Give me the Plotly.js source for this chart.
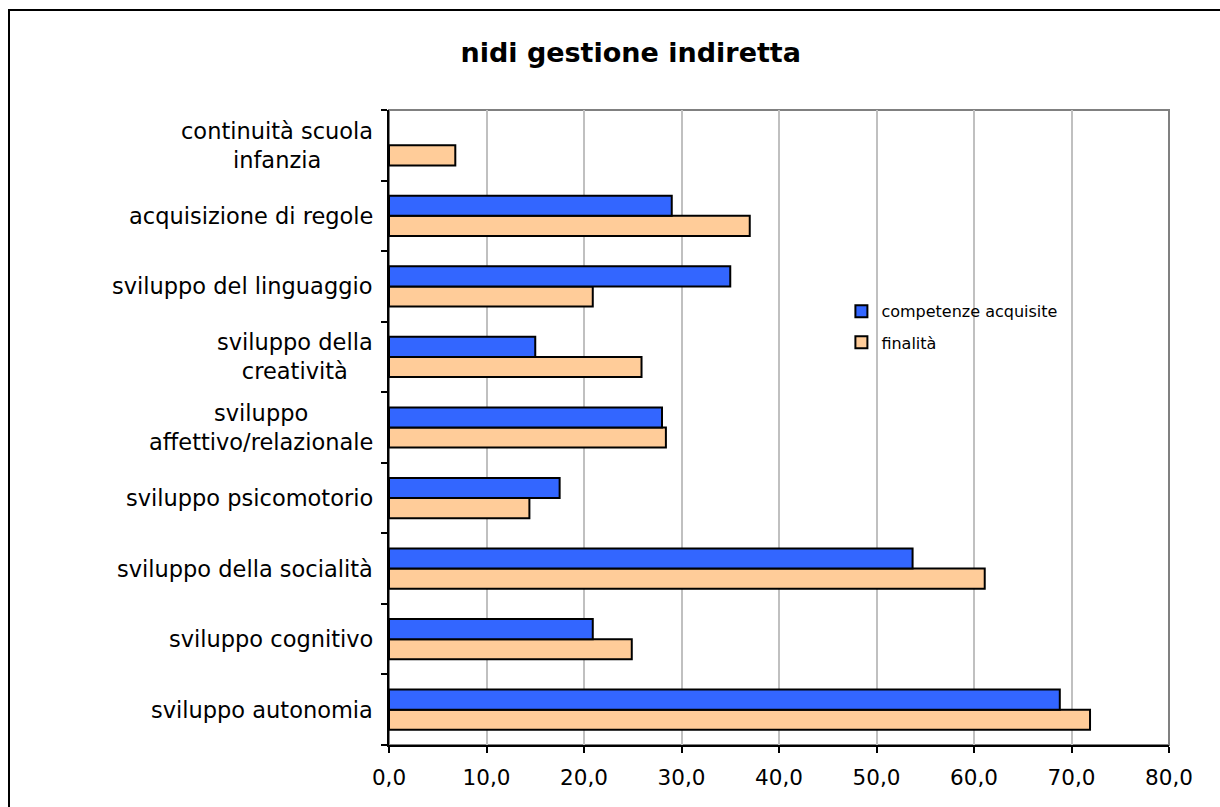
<!DOCTYPE html>
<html>
<head>
<meta charset="utf-8">
<script src="https://cdn.plot.ly/plotly-3.0.1.min.js"></script>
<style>
  html, body { margin: 0; padding: 0; background: #fff; }
  #wrap { position: relative; width: 1220px; height: 807px; overflow: hidden; }
  #chart { position: absolute; left: 0; top: 0; width: 1220px; height: 807px; }
  #frame { position: absolute; left: 8px; top: 9px; width: 1240px; height: 840px;
           border: 2px solid #000; box-sizing: border-box; pointer-events: none; }
</style>
</head>
<body>
<div id="wrap">
  <div id="chart"></div>
  <div id="frame"></div>
</div>
<script>
// Categories, bottom to top
const categories = [
  "sviluppo autonomia",
  "sviluppo cognitivo",
  "sviluppo della socialità",
  "sviluppo psicomotorio",
  "sviluppo<br>affettivo/relazionale",
  "sviluppo della<br>creatività",
  "sviluppo del linguaggio",
  "acquisizione di regole",
  "continuità scuola<br>infanzia"
];
const competenzeAcquisite = [68.8, 20.9, 53.7, 17.5, 28.0, 15.0, 35.0, 29.0, null];
const finalita            = [71.9, 24.9, 61.1, 14.4, 28.4, 25.9, 20.9, 37.0, 6.8];
const xTicks = [0, 10, 20, 30, 40, 50, 60, 70, 80];

const catIdx = categories.map((c, i) => i);
const FONT = 'DejaVu Sans, Verdana, sans-serif';

const traces = [
  {
    type: 'bar', orientation: 'h', name: 'finalità',
    y: catIdx, x: finalita,
    marker: { color: '#FFCC99', line: { color: '#000', width: 2 } },
    legend: 'legend2', hoverinfo: 'x'
  },
  {
    type: 'bar', orientation: 'h', name: 'competenze acquisite',
    y: catIdx, x: competenzeAcquisite,
    marker: { color: '#3366FF', line: { color: '#000', width: 2 } },
    legend: 'legend', hoverinfo: 'x'
  }
];

const annotations = categories.map((c, i) => ({
  text: c, x: 0, xref: 'paper', y: i, yref: 'y',
  xanchor: 'right', yanchor: 'middle', xshift: -14, align: 'center',
  showarrow: false,
  font: { family: FONT, size: 22.5, color: '#000' }
}));

const layout = {
  width: 1220, height: 807,
  margin: { l: 389, r: 51, t: 110, b: 62 },
  paper_bgcolor: 'rgba(0,0,0,0)', plot_bgcolor: '#fff',
  separators: ',.',
  title: {
    text: '<b>nidi gestione indiretta</b>',
    x: 0.517, xanchor: 'center', y: 0.935, yanchor: 'middle',
    font: { family: FONT, size: 27, color: '#000' }
  },
  barmode: 'group', bargap: 0.43, bargroupgap: 0,
  xaxis: {
    range: [0, 80], tickvals: xTicks, tickformat: '.1f',
    showgrid: true, gridcolor: '#c0c0c0', gridwidth: 2,
    showline: true, linecolor: '#000', linewidth: 2,
    ticks: 'outside', ticklen: 6, tickwidth: 2, tickcolor: '#000',
    ticklabelstandoff: 6,
    zeroline: false, fixedrange: true,
    tickfont: { family: FONT, size: 21.5, color: '#000' }
  },
  yaxis: {
    type: 'linear', range: [-0.5, 8.5],
    tickvals: [-0.5, 0.5, 1.5, 2.5, 3.5, 4.5, 5.5, 6.5, 7.5, 8.5],
    showticklabels: false, showgrid: false, zeroline: false,
    showline: true, linecolor: '#000', linewidth: 2,
    ticks: 'outside', ticklen: 6, tickwidth: 2, tickcolor: '#000',
    fixedrange: true
  },
  shapes: [{
    type: 'rect', xref: 'paper', yref: 'paper', x0: 0, x1: 1, y0: 0, y1: 1,
    line: { color: '#808080', width: 2 }, layer: 'below'
  }],
  annotations: annotations,
  showlegend: true,
  legend: {
    x: 0.58, y: 0.683, xanchor: 'left', yanchor: 'middle',
    bgcolor: 'rgba(0,0,0,0)', borderwidth: 0,
    font: { family: FONT, size: 16, color: '#000' }
  },
  legend2: {
    x: 0.58, y: 0.634, xanchor: 'left', yanchor: 'middle',
    bgcolor: 'rgba(0,0,0,0)', borderwidth: 0,
    font: { family: FONT, size: 16, color: '#000' }
  }
};

Plotly.newPlot('chart', traces, layout, { displayModeBar: false, staticPlot: true });
</script>
</body>
</html>
